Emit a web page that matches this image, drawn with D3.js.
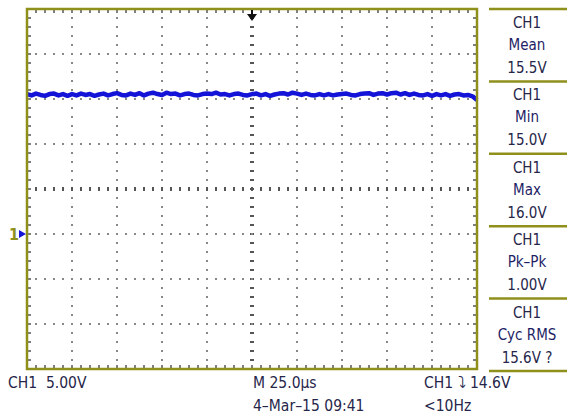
<!DOCTYPE html>
<html>
<head>
<meta charset="utf-8">
<script src="https://cdn.jsdelivr.net/npm/d3@7"></script>
<style>
  body { margin: 0; background: #fff; }
  text { font-family: "Liberation Sans Narrow", "DejaVu Sans Condensed", "Liberation Sans", sans-serif; white-space: pre; }
</style>
</head>
<body>
<script>
// CH1 trace, volts, one sample every 2.5 us (25 us/div, 10 div)
const sampleStepUs = 2.5;
const traceVolts = [
  15.55, 15.4, 15.6, 15.45, 15.35, 15.55, 15.6, 15.4, 15.55, 15.35,
  15.55, 15.4, 15.6, 15.45, 15.55, 15.35, 15.5, 15.6, 15.4, 15.55,
  15.65, 15.45, 15.4, 15.6, 15.45, 15.65, 15.4, 15.6, 15.7, 15.55,
  15.45, 15.7, 15.55, 15.6, 15.4, 15.55, 15.6, 15.45, 15.4, 15.55,
  15.6, 15.55, 15.7, 15.5, 15.55, 15.4, 15.55, 15.6, 15.45, 15.4,
  15.55, 15.6, 15.4, 15.55, 15.35, 15.5, 15.6, 15.65, 15.5, 15.7,
  15.6, 15.45, 15.6, 15.45, 15.4, 15.55, 15.4, 15.55, 15.4, 15.5,
  15.55, 15.6, 15.45, 15.4, 15.55, 15.6, 15.65, 15.45, 15.6, 15.65,
  15.5, 15.65, 15.7, 15.5, 15.65, 15.45, 15.6, 15.45, 15.4, 15.55,
  15.35, 15.55, 15.4, 15.55, 15.35, 15.5, 15.55, 15.4, 15.45, 15.3,
  14.9
];

const measureChannel = "CH1";
const measureNames = ["Mean", "Min", "Max", "Pk\u2013Pk", "Cyc RMS"];
const measureValues = ["15.5V", "15.0V", "16.0V", "1.00V", "15.6V ?"];

const timeDomain = [0, 250];     // us across the screen
const voltDomain = [-15, 25];    // CH1 at 5 V/div, ground one div below centre
const timeDiv = 25, voltDiv = 5;
const minorPerDiv = 5;

const bottomLabels = ["CH1  5.00V", "M 25.0\u00b5s", "CH1 \u2935 14.6V"];
const bottomLabels2 = ["4\u2013Mar\u201315 09:41", "<10Hz"];

const WIDTH = 567, HEIGHT = 419;
const OLIVE = "#8f8f1c";
const TEXT = "#26264a";

var x = d3.scaleLinear().domain(timeDomain).range([27, 477]);
var y = d3.scaleLinear().domain(voltDomain).range([369, 9]);

var svg = d3.select("body").append("svg")
    .attr("width", WIDTH)
    .attr("height", HEIGHT);

// graticule
var grid = svg.append("g");
var tMajor = d3.range(timeDomain[0] + timeDiv, timeDomain[1], timeDiv);
var vMajor = d3.range(voltDomain[0] + voltDiv, voltDomain[1], voltDiv);
var tMinor = d3.range(timeDomain[0], timeDomain[1] + 0.01, timeDiv / minorPerDiv);
var vMinor = d3.range(voltDomain[0], voltDomain[1] + 0.01, voltDiv / minorPerDiv);
var tCenter = (timeDomain[0] + timeDomain[1]) / 2;
var vCenter = (voltDomain[0] + voltDomain[1]) / 2;

tMajor.forEach(function(t) {
  var isC = t === tCenter;
  grid.selectAll(null).data(vMinor.slice(1, -1)).enter().append("rect")
      .attr("x", x(t) - (isC ? 2 : 1))
      .attr("y", function(v) { return y(v) - 1; })
      .attr("width", isC ? 4 : 2)
      .attr("height", 2)
      .attr("fill", isC ? "#555" : "#888");
});
vMajor.forEach(function(v) {
  var isC = v === vCenter;
  grid.selectAll(null).data(tMinor.slice(1, -1)).enter().append("rect")
      .attr("x", function(t) { return x(t) - 1; })
      .attr("y", y(v) - (isC ? 2 : 1))
      .attr("width", 2)
      .attr("height", isC ? 4 : 2)
      .attr("fill", isC ? "#555" : "#888");
});

// border ticks
var ticks = svg.append("g").attr("stroke", "#555").attr("stroke-width", 1.5);
ticks.selectAll(".tt").data(tMinor.slice(1, -1)).enter().append("line")
    .attr("x1", d => x(d)).attr("x2", d => x(d)).attr("y1", y(voltDomain[1])).attr("y2", y(voltDomain[1]) + 4);
ticks.selectAll(".tb").data(tMinor.slice(1, -1)).enter().append("line")
    .attr("x1", d => x(d)).attr("x2", d => x(d)).attr("y1", y(voltDomain[0])).attr("y2", y(voltDomain[0]) - 4);
ticks.selectAll(".vl").data(vMinor.slice(1, -1)).enter().append("line")
    .attr("y1", d => y(d)).attr("y2", d => y(d)).attr("x1", x(timeDomain[0])).attr("x2", x(timeDomain[0]) + 4);
ticks.selectAll(".vr").data(vMinor.slice(1, -1)).enter().append("line")
    .attr("y1", d => y(d)).attr("y2", d => y(d)).attr("x1", x(timeDomain[1])).attr("x2", x(timeDomain[1]) - 4);

// trace
var line = d3.line()
    .x(function(d, i) { return x(i * sampleStepUs); })
    .y(function(d) { return y(d); });

svg.append("path")
    .attr("d", line(traceVolts))
    .attr("fill", "none")
    .attr("stroke", "#1414d8")
    .attr("stroke-width", 4.5)
    .attr("stroke-linejoin", "round");

// border
svg.append("rect")
    .attr("x", x(timeDomain[0])).attr("y", y(voltDomain[1]))
    .attr("width", x(timeDomain[1]) - x(timeDomain[0]))
    .attr("height", y(voltDomain[0]) - y(voltDomain[1]))
    .attr("fill", "none")
    .attr("stroke", OLIVE)
    .attr("stroke-width", 2.5);

// trigger position marker
var tx = x(tCenter), ty = y(voltDomain[1]);
svg.append("path")
    .attr("d", "M" + (tx - 5) + "," + (ty + 5) + "L" + (tx + 5) + "," + (ty + 5) + "L" + tx + "," + (ty + 12) + "Z")
    .attr("fill", "#111");
svg.append("rect").attr("x", tx - 1).attr("y", ty + 1).attr("width", 2).attr("height", 5).attr("fill", "#111");

// ground marker
var gy = y(0);
svg.append("text").attr("x", 9).attr("y", gy + 6)
    .attr("font-size", 16).attr("font-weight", "bold").attr("fill", OLIVE).text("1");
svg.append("path")
    .attr("d", "M19," + (gy - 4) + "L26," + gy + "L19," + (gy + 4) + "Z")
    .attr("fill", "#1414d8");

// measurement panel
var panelTop = 9, panelH = 72.4, panelX0 = 489, panelCx = 527;
var panel = svg.append("g");
d3.range(measureNames.length + 1).forEach(function(i) {
  panel.append("line")
      .attr("x1", panelX0).attr("x2", WIDTH)
      .attr("y1", panelTop + i * panelH).attr("y2", panelTop + i * panelH)
      .attr("stroke", OLIVE).attr("stroke-width", 2.5);
});
measureNames.forEach(function(name, i) {
  var top = panelTop + i * panelH;
  var g = panel.append("g").attr("text-anchor", "middle").attr("font-size", 15).attr("fill", TEXT);
  g.append("text").attr("x", panelCx).attr("y", top + 19).text(measureChannel);
  g.append("text").attr("x", panelCx).attr("y", top + 41).attr("fill", "#1e1e66").text(name);
  g.append("text").attr("x", panelCx).attr("y", top + 64).text(measureValues[i]);
});

// status line
var statusRow = svg.append("g").attr("font-size", 15.5).attr("fill", TEXT);
var statusX = [8, 253, 424];
bottomLabels.forEach(function(s, i) {
  statusRow.append("text").attr("x", statusX[i]).attr("y", 388).text(s);
});
bottomLabels2.forEach(function(s, i) {
  statusRow.append("text").attr("x", statusX[i + 1]).attr("y", 411).text(s);
});
</script>
</body>
</html>
